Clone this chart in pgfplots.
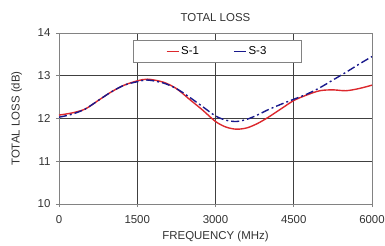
\documentclass[border=0pt]{standalone}
\usepackage{fontspec}
\setmainfont{Liberation Sans}
\usepackage{pgfplots}
\pgfplotsset{compat=1.18}
\definecolor{sred}{RGB}{220,40,45}
\definecolor{sblue}{RGB}{25,25,140}
\definecolor{frame}{RGB}{130,130,130}
\begin{document}
\begin{tikzpicture}[x=1bp,y=1bp]
\useasboundingbox (-59,-42) rectangle (326,204);
\begin{axis}[
  at={(0,0)}, anchor=south west,
  scale only axis, width=313bp, height=171bp,
  xmin=0, xmax=6000, ymin=10, ymax=14,
  xtick={0,1500,3000,4500,6000},
  ytick={10,11,12,13,14},
  grid=major,
  major grid style={black!75, line width=0.6pt},
  axis line style={frame, line width=0.8pt},
  tick style={frame, line width=0.6pt},
  tick align=outside, major tick length=3bp,
  xtick pos=bottom, ytick pos=left,
  /pgf/number format/assume math mode=true,
  /pgf/number format/1000 sep={},
  ticklabel style={font=\fontsize{11.5}{13}\selectfont, text=black!80},
  xticklabel style={yshift=-5bp},
  yticklabel style={xshift=-2bp},
  xlabel={FREQUENCY (MHz)}, ylabel={TOTAL LOSS (dB)},
  label style={font=\fontsize{11.5}{13}\selectfont, text=black!80},
  xlabel style={at={(axis description cs:0.5,0)}, anchor=center, yshift=-33bp},
  ylabel style={yshift=9bp},
  title={TOTAL LOSS},
  title style={font=\fontsize{11.5}{13}\selectfont, text=black!80, yshift=2bp},
  legend columns=2,
  legend style={at={(0.505,0.96)}, anchor=north, draw=frame,
    font=\fontsize{11.5}{13}\selectfont,
    inner xsep=33bp, inner ysep=4.5bp, /tikz/every even column/.append style={column sep=32bp}},
  legend image code/.code={\draw[#1] (0bp,0bp) -- (12bp,0bp);},
]
\addplot[sred, line width=1.4pt, smooth, forget plot] coordinates {
(0,12.08) (250,12.13) (500,12.22) (750,12.42) (1000,12.62) (1250,12.78) (1500,12.88)
(1700,12.92) (2000,12.85) (2250,12.7) (2500,12.45) (2750,12.2) (3000,11.93) (3200,11.8)
(3400,11.75) (3600,11.78) (3800,11.88) (4000,12.02) (4250,12.22) (4500,12.42) (4750,12.55)
(5000,12.65) (5250,12.67) (5500,12.65) (5750,12.7) (6000,12.78)};
\addplot[sblue, line width=1.4pt, smooth, dash pattern=on 8bp off 3bp on 2bp off 3bp, forget plot] coordinates {
(0,12.03) (250,12.1) (500,12.22) (750,12.42) (1000,12.62) (1250,12.78) (1500,12.86)
(1700,12.9) (2000,12.83) (2250,12.7) (2500,12.5) (2750,12.28) (3000,12.06) (3200,11.96)
(3400,11.93) (3600,11.98) (3800,12.08) (4000,12.2) (4250,12.33) (4500,12.45) (4750,12.57)
(5000,12.72) (5250,12.9) (5500,13.08) (5750,13.27) (6000,13.45)};
\addlegendimage{draw=sred, line width=1.5pt}
\addlegendentry{S-1}
\addlegendimage{draw=sblue, line width=1.5pt}
\addlegendentry{S-3}
\end{axis}
\end{tikzpicture}
\end{document}
